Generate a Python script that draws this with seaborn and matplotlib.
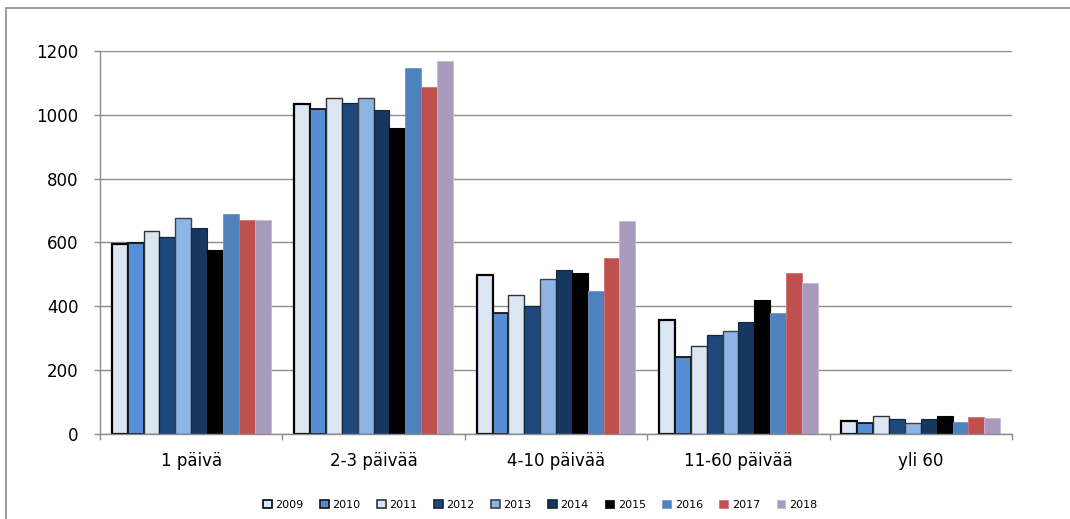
import matplotlib
matplotlib.use("Agg")
import matplotlib.pyplot as plt
import seaborn as sns
import pandas as pd
from matplotlib.patches import Patch
from matplotlib.lines import Line2D

categories = ["1 päivä", "2-3 päivää", "4-10 päivää", "11-60 päivää", "yli 60"]
years = ["2009", "2010", "2011", "2012", "2013", "2014", "2015", "2016", "2017", "2018"]
v2009 = [595, 1034, 499, 357, 42]
v2010 = [597, 1019, 378, 240, 36]
v2011 = [635, 1054, 434, 275, 57]
v2012 = [616, 1036, 400, 310, 47]
v2013 = [678, 1054, 486, 323, 34]
v2014 = [645, 1015, 513, 352, 48]
v2015 = [576, 958, 505, 420, 57]
v2016 = [690, 1146, 447, 378, 39]
v2017 = [671, 1086, 552, 503, 52]
v2018 = [671, 1169, 667, 472, 51]
series = [v2009, v2010, v2011, v2012, v2013, v2014, v2015, v2016, v2017, v2018]
yticks = [0, 200, 400, 600, 800, 1000, 1200]

colors = ["#DCE6F2", "#558ED5", "#DCE6F2", "#1F497D", "#8EB4E3",
          "#17375E", "#000000", "#4F81BD", "#C0504D", "#A99BBD"]
edges = ["#000000", "#111111", "#333333", "#10263f", "#404040",
         "#0f2540", "#000000", "#6a96cc", "#d07070", "#c4b8d4"]
lws = [1.6, 1.3, 1.0, 0.9, 1.0, 0.8, 0.8, 0.6, 0.6, 0.6]

rows = []
for y, vals in zip(years, series):
    for c, v in zip(categories, vals):
        rows.append({"cat": c, "year": y, "value": v})
df = pd.DataFrame(rows)

sns.set_style("white")
plt.rcParams["font.family"] = ["DejaVu Sans"]
plt.rcParams["text.color"] = "black"

fig = plt.figure(figsize=(10.70, 5.19), dpi=100)
ax = fig.add_axes([100/1070, 1-434/519, 912/1070, 383/519])

sns.barplot(data=df, x="cat", y="value", hue="year", order=categories,
            hue_order=years, palette=colors, width=0.87, ax=ax,
            legend=False, saturation=1, errorbar=None)

for cont, ec, lw in zip(ax.containers, edges, lws):
    for p in cont.patches:
        p.set_edgecolor(ec)
        p.set_linewidth(lw)

ax.set_ylim(0, 1200)
ax.set_xlim(-0.5, len(categories) - 0.5)
ax.set_yticks(yticks)
ax.set_yticklabels([str(t) for t in yticks], fontsize=12, color="black")
ax.yaxis.grid(True, color="#8c8c8c", linewidth=1.0)
ax.set_axisbelow(True)
ax.set_xlabel("")
ax.set_ylabel("")

ax.set_xticks(range(len(categories)))
ax.set_xticklabels(categories, fontsize=12, color="black")
ax.tick_params(axis="x", which="major", length=0, pad=13)
ax.set_xticks([i - 0.5 for i in range(len(categories) + 1)], minor=True)
ax.tick_params(axis="x", which="minor", bottom=True, length=4.5, color="#8c8c8c",
               width=1, direction="out")
ax.tick_params(axis="y", which="major", left=True, length=4.5, color="#8c8c8c",
               width=1, direction="out", pad=11)

for s in ["top", "right"]:
    ax.spines[s].set_visible(False)
for s in ["left", "bottom"]:
    ax.spines[s].set_color("#8c8c8c")
    ax.spines[s].set_linewidth(1.0)

handles = [Patch(facecolor=c, edgecolor=e, linewidth=1.2 if i < 6 else 0.5)
           for i, (c, e) in enumerate(zip(colors, edges))]
fig.legend(handles, years, loc="center", bbox_to_anchor=(540/1070, 1-505/519),
           ncol=10, frameon=False, fontsize=8, handlelength=0.8, handleheight=0.8,
           handletextpad=0.3, columnspacing=1.5, labelcolor="black")

# outer chart frame (top and left edges visible)
fig.add_artist(Line2D([6/1070, 1.0], [1-8/519, 1-8/519], transform=fig.transFigure,
                      color="#8c8c8c", linewidth=1.2))
fig.add_artist(Line2D([6/1070, 6/1070], [0, 1-8/519], transform=fig.transFigure,
                      color="#8c8c8c", linewidth=1.2))

fig.savefig("out.png", dpi=100)
